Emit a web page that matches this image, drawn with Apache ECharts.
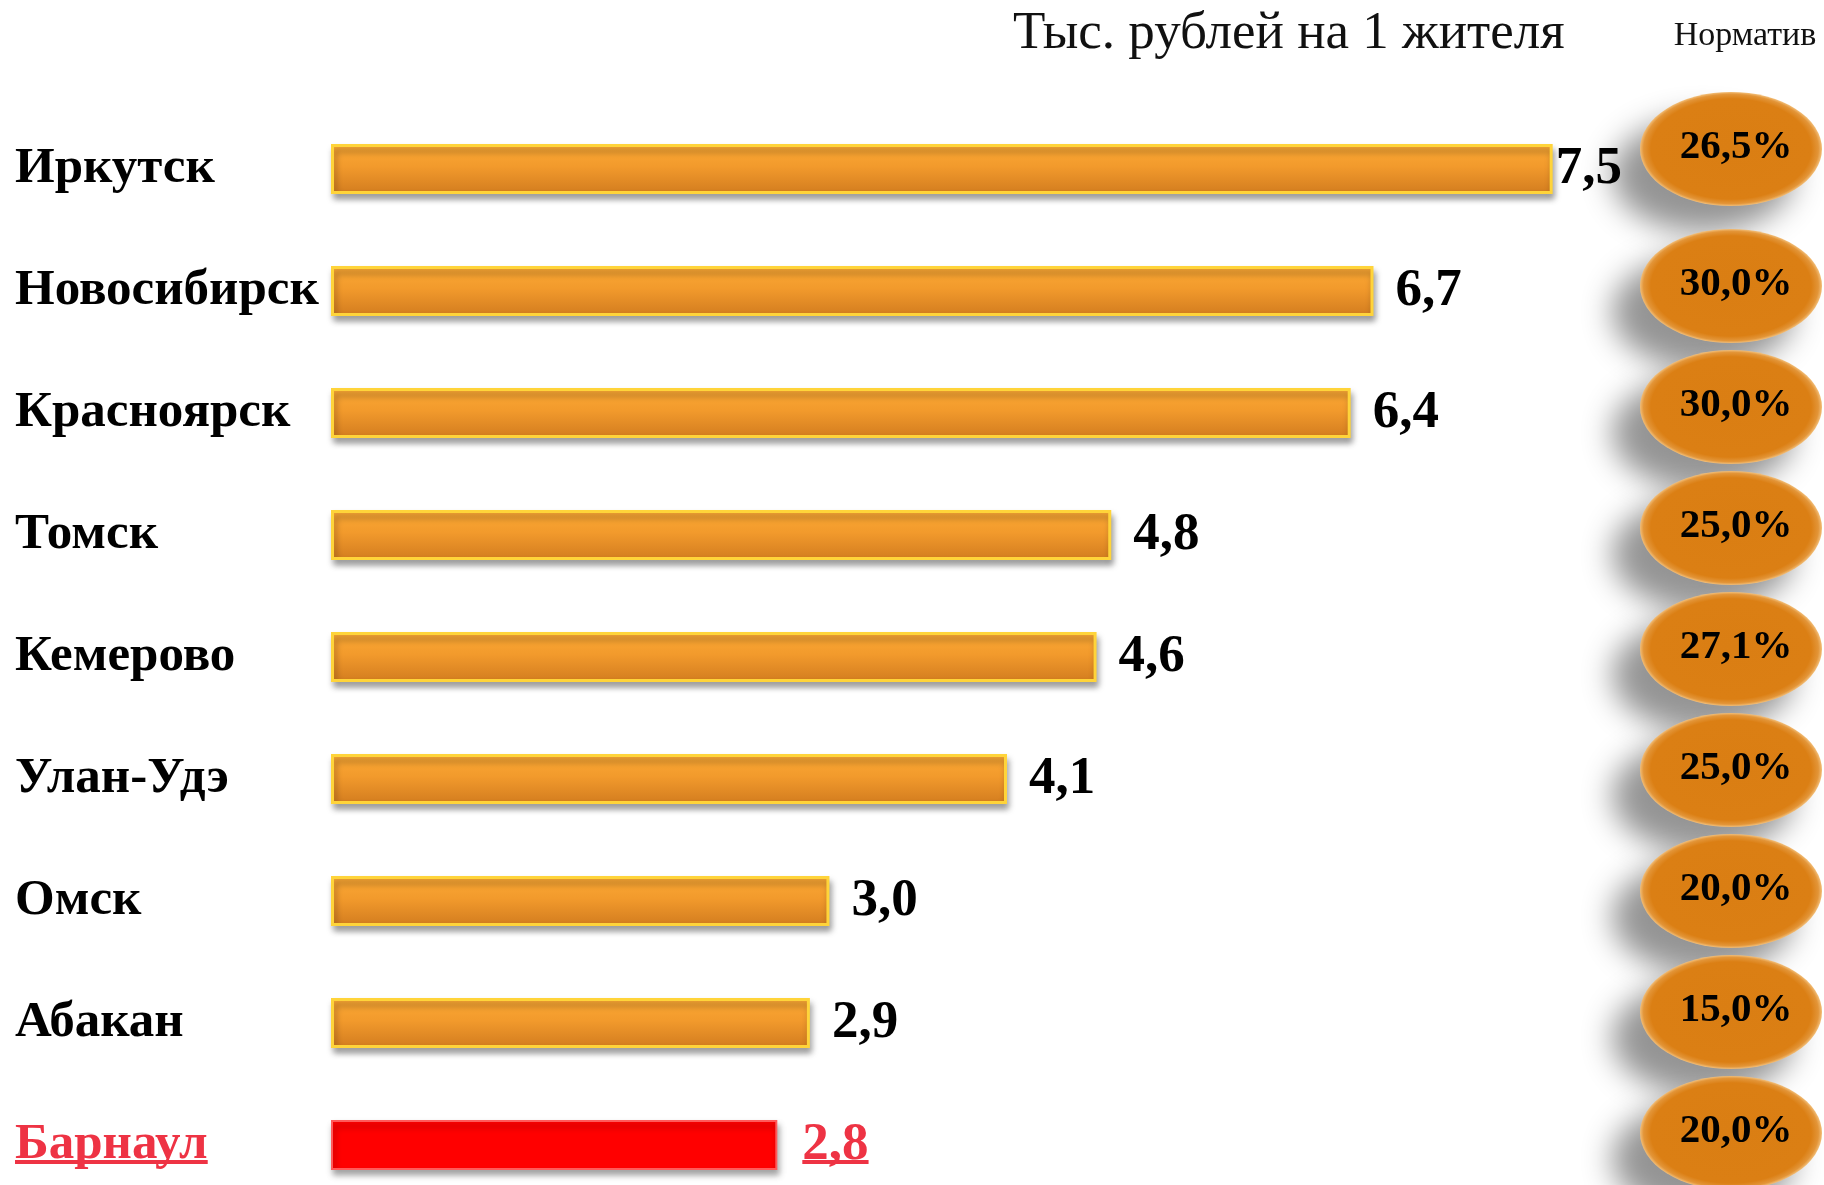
<!DOCTYPE html>
<html><head><meta charset="utf-8">
<script src="https://cdn.jsdelivr.net/npm/echarts@6/dist/echarts.min.js"></script>
<style>html,body{margin:0;padding:0;background:#fff}#c{width:1824px;height:1185px}</style>
</head><body><div id="c"></div>
<script>
const cities = ['Иркутск','Новосибирск','Красноярск','Томск','Кемерово','Улан-Удэ','Омск','Абакан','Барнаул'];
// printed values (тыс. руб. на 1 жителя)
const valueLabels = [7.5, 6.7, 6.4, 4.8, 4.6, 4.1, 3.0, 2.9, 2.8];
// bar lengths as drawn in the picture (same units)
const barLengths = [7.5, 6.40, 6.26, 4.79, 4.70, 4.15, 3.06, 2.94, 2.74];
const normative = [26.5, 30.0, 30.0, 25.0, 27.1, 25.0, 20.0, 15.0, 20.0];
const highlightCity = 'Барнаул';
const titleText = 'Тыс. рублей на 1 жителя';
const normHeader = 'Норматив';

const SERIF = '"Liberation Serif","Times New Roman",serif';
const RED_TEXT = '#EE3344';
const fmt = v => v.toFixed(1).replace('.', ',');
const VAL_FONT = 53, CITY_FONT = 51, VAL_DIST = 22;

const chart = echarts.init(document.getElementById('c'), null, {renderer: 'canvas'});

const barGrad = new echarts.graphic.LinearGradient(0, 0, 0, 1, [
  {offset: 0, color: '#FBA935'},
  {offset: 0.45, color: '#F29A2C'},
  {offset: 1, color: '#D27C1F'}
]);
const ovalGrad = new echarts.graphic.RadialGradient(0.5, 0.5, 0.5, [
  {offset: 0, color: '#DA7E13'},
  {offset: 0.88, color: '#DB7F14'},
  {offset: 0.96, color: '#E39538'},
  {offset: 1, color: '#F2BE78'}
]);

const option = {
  backgroundColor: '#ffffff',
  animation: false,
  title: {
    text: titleText,
    left: 1008, top: 3,
    textStyle: {fontFamily: SERIF, fontSize: 53, fontWeight: 'normal', color: '#111'}
  },
  grid: [
    {left: 331, right: 27, top: 169, height: 976, containLabel: false},
    {left: 1640, width: 182, top: 165, height: 968, containLabel: false}
  ],
  xAxis: [
    {type: 'value', gridIndex: 0, min: 0, max: 9, show: false},
    {type: 'category', gridIndex: 1, data: [normHeader], position: 'top',
     axisLine: {show: false}, axisTick: {show: false}, splitLine: {show: false},
     axisLabel: {margin: 112, padding: [0, 0, 0, 28], fontFamily: SERIF, fontSize: 34, color: '#111'}}
  ],
  yAxis: [
    {type: 'category', gridIndex: 0, data: cities, inverse: true, boundaryGap: false,
     axisLine: {show: false}, axisTick: {show: false}, splitLine: {show: false},
     axisLabel: {
       margin: 316, align: 'left',
       formatter: v => v === highlightCity ? '{r|' + v + '}' : '{b|' + v + '}',
       rich: {
         b: {fontFamily: SERIF, fontSize: CITY_FONT, fontWeight: 'bold', color: '#000'},
         r: {fontFamily: SERIF, fontSize: CITY_FONT, fontWeight: 'bold', color: RED_TEXT}
       }
     }},
    {type: 'category', gridIndex: 1, data: cities, inverse: true, boundaryGap: false, show: false}
  ],
  series: [
    {
      type: 'bar', xAxisIndex: 0, yAxisIndex: 0, barWidth: 50,
      data: barLengths.map((v, i) => {
        const item = {value: v, printed: valueLabels[i]};
        if (cities[i] === highlightCity) {
          item.itemStyle = {color: '#FF0000', borderColor: '#FF5a5a', borderWidth: 2};
          item.label = {color: RED_TEXT, distance: VAL_DIST + 3};
        }
        if (i === 0) item.label = {distance: 3};
        return item;
      }),
      itemStyle: {
        color: barGrad, borderColor: '#FFD43A', borderWidth: 3,
        shadowColor: 'rgba(0,0,0,0.35)', shadowBlur: 6, shadowOffsetX: 2, shadowOffsetY: 5
      },
      label: {
        show: true, position: 'right', distance: VAL_DIST,
        formatter: p => fmt(p.data.printed),
        fontFamily: SERIF, fontSize: VAL_FONT, fontWeight: 'bold', color: '#000'
      },
      emphasis: {disabled: true}
    },
    {
      type: 'scatter', xAxisIndex: 1, yAxisIndex: 1,
      symbol: 'circle', symbolSize: [182, 114],
      data: normative.map((v, i) => ({
        value: [normHeader, cities[i], v],
        symbolOffset: i === 0 ? [0, -16] : [0, 0]
      })),
      itemStyle: {
        color: ovalGrad,
        shadowColor: 'rgba(0,0,0,0.42)', shadowBlur: 30, shadowOffsetX: -28, shadowOffsetY: 26,
        opacity: 1
      },
      label: {
        show: true, position: 'inside', offset: [5, -2],
        formatter: p => fmt(p.value[2]) + '%',
        fontFamily: SERIF, fontSize: 41, fontWeight: 'bold', color: '#000'
      },
      emphasis: {disabled: true},
      z: 3
    }
  ]
};
chart.setOption(option);

// Underline decorations for the highlighted city (label and value), derived from the axis scale
(function () {
  const idx = cities.indexOf(highlightCity);
  if (idx < 0) return;
  const pt = chart.convertToPixel({seriesIndex: 0}, [barLengths[idx], highlightCity]);
  const ctx = document.createElement('canvas').getContext('2d');
  ctx.font = 'bold ' + CITY_FONT + 'px ' + SERIF;
  const wCity = ctx.measureText(highlightCity).width;
  ctx.font = 'bold ' + VAL_FONT + 'px ' + SERIF;
  const wVal = ctx.measureText(fmt(valueLabels[idx])).width;
  const uy = pt[1] + 15;
  const labelLeft = 331 - 316;
  const valLeft = pt[0] + VAL_DIST + 3;
  chart.setOption({
    graphic: [
      {type: 'rect', shape: {x: labelLeft, y: uy, width: wCity, height: 4}, style: {fill: RED_TEXT}, silent: true},
      {type: 'rect', shape: {x: valLeft, y: uy, width: wVal, height: 4}, style: {fill: RED_TEXT}, silent: true}
    ]
  });
})();
</script>
</body></html>
